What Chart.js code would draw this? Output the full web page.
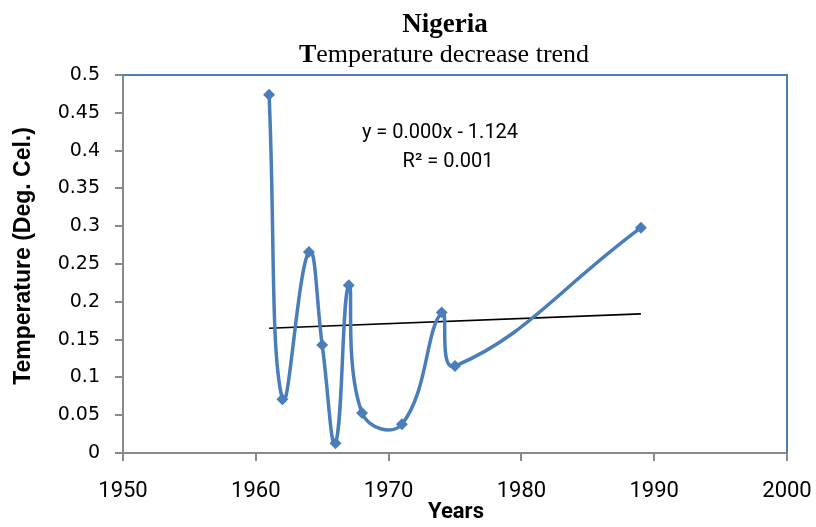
<!DOCTYPE html>
<html lang="en">
<head>
    <meta charset="UTF-8">
    <title>Nigeria | Temperature decrease trend</title>
    <script src="https://cdn.jsdelivr.net/npm/chart.js"></script>
    <style>
        html, body { margin: 0; padding: 0; background: #fff; }
        #box { width: 816px; height: 527px; }
    </style>
</head>
<body>
    <div id="box"><canvas id="graficoNigeria"></canvas></div>

<script>
    // valores
    const anos = [1961, 1962, 1964, 1965, 1966, 1967, 1968, 1971, 1974, 1975, 1989];
    const temperaturas = [0.474, 0.071, 0.266, 0.143, 0.013, 0.222, 0.053, 0.038, 0.186, 0.115, 0.298];

    // linha de tendencia (Excel)
    const anosTendencia = [1961, 1989];
    const valoresTendencia = [0.165, 0.184];

    const ticksX = [1950, 1960, 1970, 1980, 1990, 2000];
    const ticksY = [0, 0.05, 0.1, 0.15, 0.2, 0.25, 0.3, 0.35, 0.4, 0.45, 0.5];

    const equacao = 'y = 0.000x - 1.124';
    const r2 = 'R² = 0.001';

    const azul = '#4a7ebb';
    const cinza = '#898989';
    const fonteEstreita = 'Roboto, "DejaVu Sans Condensed", sans-serif';

    function pontos(xs, ys) {
        let lista = [];
        for (let i = 0; i < xs.length; i++) {
            lista.push({ x: xs[i], y: ys[i] });
        }
        return lista;
    }

    // titulos, rotulos e borda azul desenhados no canvas
    const textos = {
        id: 'textos',
        afterDraw(chart) {
            const ctx = chart.ctx;
            const area = chart.chartArea;
            ctx.save();

            // borda superior e direita
            ctx.strokeStyle = azul;
            ctx.lineWidth = 2;
            ctx.beginPath();
            ctx.moveTo(area.left, area.top);
            ctx.lineTo(area.right, area.top);
            ctx.lineTo(area.right, area.bottom);
            ctx.stroke();

            ctx.fillStyle = '#000';
            ctx.textBaseline = 'alphabetic';

            // titulo
            ctx.textAlign = 'center';
            ctx.font = 'bold 27px "Liberation Serif"';
            ctx.fillText('Nigeria', 445, 32);

            // subtitulo com o T em negrito
            ctx.font = 'bold 26px "Liberation Serif"';
            const wT = ctx.measureText('T').width;
            ctx.font = '26px "Liberation Serif"';
            const resto = 'emperature decrease trend';
            const wR = ctx.measureText(resto).width;
            let x0 = 444 - (wT + wR) / 2;
            ctx.textAlign = 'left';
            ctx.font = 'bold 26px "Liberation Serif"';
            ctx.fillText('T', x0, 62);
            ctx.font = '26px "Liberation Serif"';
            ctx.fillText(resto, x0 + wT, 62);

            // equacao da tendencia
            ctx.textAlign = 'center';
            ctx.font = '20px ' + fonteEstreita;
            ctx.fillText(equacao, 440, 138);
            ctx.fillText(r2, 448, 167);

            // titulo eixo x
            ctx.font = 'bold 22px ' + fonteEstreita;
            ctx.fillText('Years', 456, 518);

            // titulo eixo y
            ctx.translate(24, 256);
            ctx.rotate(-Math.PI / 2);
            ctx.textBaseline = 'middle';
            ctx.font = 'bold 23px "Liberation Sans"';
            ctx.fillText('Temperature (Deg. Cel.)', 0, 0);

            ctx.restore();
        }
    };

    const config = {
        type: 'scatter',
        data: {
            datasets: [{
                label: 'Temperatura',
                data: pontos(anos, temperaturas),
                showLine: true,
                borderColor: azul,
                backgroundColor: azul,
                borderWidth: 3.5,
                tension: 0.45,
                pointStyle: 'rectRot',
                pointRadius: 3.5,
                pointHoverRadius: 3.5
            }, {
                label: 'Tendencia',
                data: pontos(anosTendencia, valoresTendencia),
                showLine: true,
                borderColor: '#000',
                borderWidth: 1.6,
                pointRadius: 0,
                tension: 0
            }]
        },
        options: {
            responsive: false,
            animation: false,
            layout: { padding: { left: 0, right: 29, top: 75, bottom: 0 } },
            plugins: {
                legend: { display: false },
                tooltip: { enabled: false }
            },
            scales: {
                x: {
                    type: 'linear',
                    min: 1950,
                    max: 2000,
                    afterBuildTicks(scale) {
                        scale.ticks = ticksX.map(v => ({ value: v }));
                    },
                    afterFit(scale) {
                        scale.height = 74;
                        scale.paddingLeft = 0;
                        scale.paddingRight = 0;
                    },
                    grid: { drawOnChartArea: false, tickLength: 8, color: cinza, lineWidth: 2 },
                    border: { color: cinza, width: 2 },
                    ticks: {
                        color: '#000',
                        padding: 17,
                        maxRotation: 0,
                        font: { family: fonteEstreita, size: 22 },
                        callback: v => String(v)
                    }
                },
                y: {
                    min: 0,
                    max: 0.5,
                    afterBuildTicks(scale) {
                        scale.ticks = ticksY.map(v => ({ value: v }));
                    },
                    afterFit(scale) {
                        scale.width = 123;
                        scale.paddingTop = 0;
                        scale.paddingBottom = 0;
                    },
                    grid: { drawOnChartArea: false, tickLength: 8, color: cinza, lineWidth: 2 },
                    border: { color: cinza, width: 2 },
                    ticks: {
                        color: '#000',
                        padding: 15,
                        font: { family: 'DejaVu Sans', size: 19 },
                        callback: v => Number(v.toFixed(2)).toString()
                    }
                }
            }
        },
        plugins: [textos]
    };

    const canvas = document.getElementById('graficoNigeria');
    canvas.width = 816;
    canvas.height = 527;
    new Chart(canvas, config);
</script>
</body>
</html>
